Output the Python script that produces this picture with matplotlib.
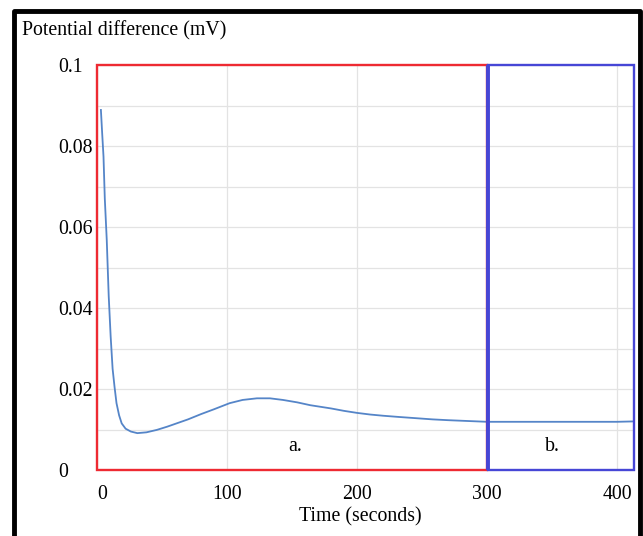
import numpy as np
import matplotlib.pyplot as plt
from matplotlib.patches import Rectangle
from matplotlib.lines import Line2D

plt.rcParams['font.family'] = ['Liberation Serif', 'DejaVu Serif']

# data
time_s = [3, 4, 5, 6, 7.5, 9, 10.5, 12, 13.5, 15, 17, 19, 22, 26, 31, 38, 46, 54,
          62, 70, 80, 90, 102, 112, 123, 133, 143, 154, 164, 172, 180, 190, 200,
          210, 220, 232, 245, 258, 270, 285, 300, 320, 340, 360, 380, 400, 413]
pot_mv = [0.0889, 0.083, 0.0774, 0.067, 0.0568, 0.043, 0.033, 0.025, 0.0205,
          0.0165, 0.0135, 0.0115, 0.0102, 0.0095, 0.0091, 0.0093, 0.0099, 0.0107,
          0.0116, 0.0125, 0.0138, 0.015, 0.0165, 0.0173, 0.0177, 0.0177, 0.0173,
          0.0167, 0.016, 0.0156, 0.0152, 0.0146, 0.0141, 0.0137, 0.0134, 0.0131,
          0.0128, 0.0125, 0.0123, 0.0121, 0.0119, 0.0119, 0.0119, 0.0119, 0.0119,
          0.0119, 0.012]
x_ticks = [0, 100, 200, 300, 400]
y_ticks = [0, 0.02, 0.04, 0.06, 0.08, 0.1]
y_labels = ['0', '0.02', '0.04', '0.06', '0.08', '0.1']
region_a = (0, 300)
region_b = (301, 413)

W, H = 643, 536
fs = 14.3
fig = plt.figure(figsize=(W / 100, H / 100), dpi=100)
ax = fig.add_axes([97 / W, 1 - 470 / H, (634 - 97) / W, (470 - 65) / H])

ax.set_xlim(0, 413)
ax.set_ylim(0, 0.1)
ax.set_yticks(np.arange(0, 0.1001, 0.01), minor=True)
ax.set_xticks(x_ticks)
ax.set_yticks(y_ticks)
ax.set_xticklabels([str(t) for t in x_ticks])
ax.set_yticklabels(y_labels)
ax.grid(True, which='both', color='#e3e3e3', lw=0.9)
ax.set_axisbelow(True)
for s in ax.spines.values():
    s.set_visible(False)
ax.tick_params(which='both', length=0, labelsize=fs)
ax.tick_params(axis='x', pad=11)
ax.tick_params(axis='y', pad=28)
for lab in ax.get_yticklabels():
    lab.set_horizontalalignment('left')
ax.get_xticklabels()[0].set_horizontalalignment('left')

ax.plot(time_s, pot_mv, color='#5585c8', lw=1.3, zorder=3)

ax.add_patch(Rectangle((region_a[0], 0), region_a[1] - region_a[0], 0.1,
                       fill=False, ec='#ee2a32', lw=1.7, zorder=4, clip_on=False))
ax.add_patch(Rectangle((region_b[0], 0), region_b[1] - region_b[0], 0.1,
                       fill=False, ec='#4646d6', lw=1.7, zorder=5, clip_on=False))
ax.axvline(region_b[0], color='#4646d6', lw=2.8, zorder=5)

ax.text(152, 0.0057, 'a.', ha='center', va='center', fontsize=fs)
ax.text(350, 0.0057, 'b.', ha='center', va='center', fontsize=fs)

fig.text(22 / W, 1 - 31 / H, 'Potential difference (mV)', ha='left', va='center',
         fontsize=fs)
fig.text(360 / W, 1 - 517 / H, 'Time (seconds)', ha='center', va='center',
         fontsize=fs)

# black frame around the chart
fig.add_artist(Line2D([13.5 / W, 13.5 / W, 639.5 / W, 639.5 / W],
                      [0, 1 - 10.5 / H, 1 - 10.5 / H, 0],
                      transform=fig.transFigure, color='black', lw=3.5))

fig.savefig('out.png', dpi=100)
